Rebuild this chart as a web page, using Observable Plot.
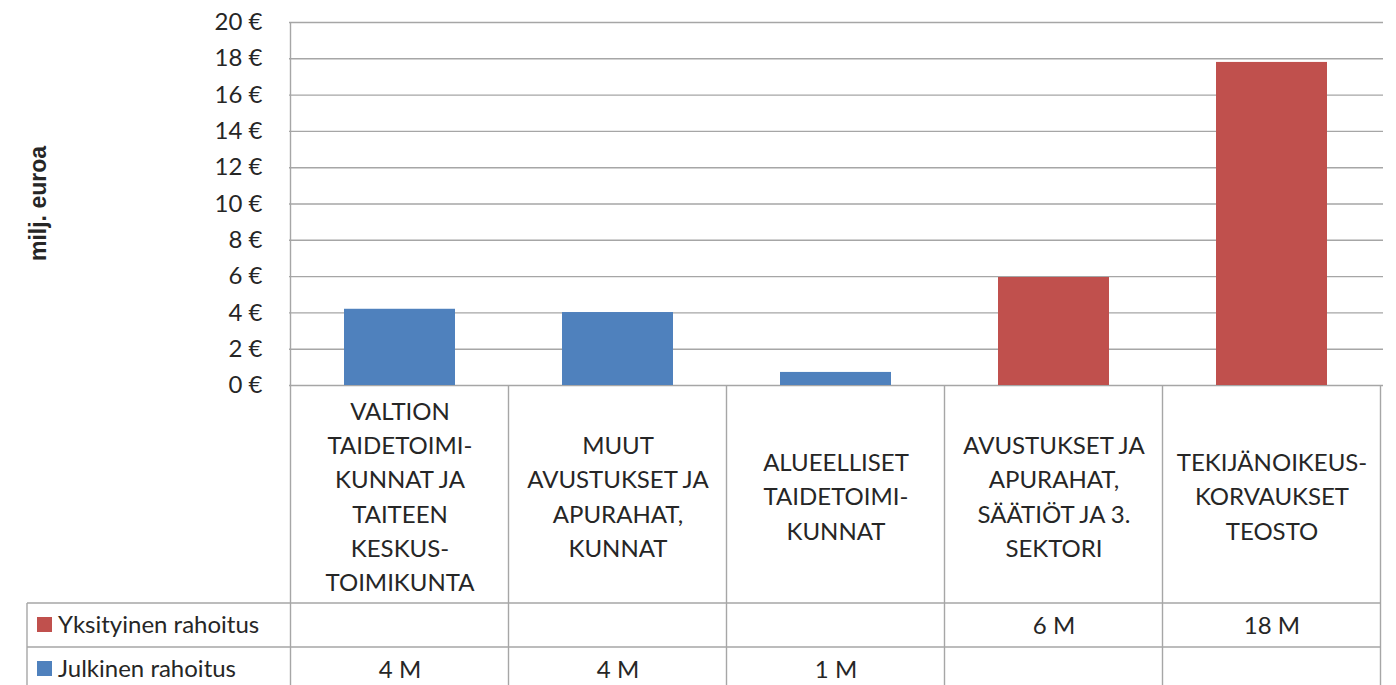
<!DOCTYPE html>
<html><head><meta charset="utf-8">
<script src="https://cdn.jsdelivr.net/npm/d3@7"></script>
<script src="https://cdn.jsdelivr.net/npm/@observablehq/plot@0.6"></script>
<style>body{margin:0;background:#fff} svg{display:block}</style>
</head><body><div id="chart"></div>
<script>
const categories = [
  "VALTION TAIDETOIMIKUNNAT JA TAITEEN KESKUSTOIMIKUNTA",
  "MUUT AVUSTUKSET JA APURAHAT, KUNNAT",
  "ALUEELLISET TAIDETOIMIKUNNAT",
  "AVUSTUKSET JA APURAHAT, SÄÄTIÖT JA 3. SEKTORI",
  "TEKIJÄNOIKEUSKORVAUKSET TEOSTO"
];
const categoryLabels = [
  "VALTION\nTAIDETOIMI-\nKUNNAT JA\nTAITEEN\nKESKUS-\nTOIMIKUNTA",
  "MUUT\nAVUSTUKSET JA\nAPURAHAT,\nKUNNAT",
  "ALUEELLISET\nTAIDETOIMI-\nKUNNAT",
  "AVUSTUKSET JA\nAPURAHAT,\nSÄÄTIÖT JA 3.\nSEKTORI",
  "TEKIJÄNOIKEUS-\nKORVAUKSET\nTEOSTO"
];
const seriesNames = ["Yksityinen rahoitus", "Julkinen rahoitus"];
const seriesColors = ["#C0504D", "#4F81BD"];
const yksityinen = [null, null, null, 5.95, 17.8];
const julkinen = [4.2, 4.02, 0.72, null, null];
const yTicks = [0, 2, 4, 6, 8, 10, 12, 14, 16, 18, 20];
const yTitle = "milj. euroa";

const seriesValues = [yksityinen, julkinen];
const rows = [];
categories.forEach((c, i) => {
  seriesNames.forEach((s, k) => {
    const v = seriesValues[k][i];
    if (v != null) rows.push({cat: c, series: s, value: v});
  });
});

const textColor = "#262626";
const lineColor = "#A6A6A6";

const plot = Plot.plot({
  width: 1396, height: 685,
  marginLeft: 289, marginRight: 13, marginTop: 22, marginBottom: 300,
  style: {fontFamily: "Lato, 'Open Sans', sans-serif", fontSize: "24px", color: textColor, background: "#fff", overflow: "visible"},
  x: {domain: categories, paddingInner: 0.49, paddingOuter: 0.245, axis: null},
  y: {domain: [0, 20], axis: null},
  color: {domain: seriesNames, range: seriesColors},
  marks: [
    Plot.gridY(yTicks, {stroke: lineColor, strokeOpacity: 1, strokeWidth: 1.4}),
    Plot.barY(rows, {x: "cat", y: "value", fill: "series"}),
    Plot.axisY(yTicks, {tickSize: 0, tickPadding: 27, tickFormat: d => `${d} €`, label: null, fill: textColor}),
    Plot.text(categories, {x: d => d, text: (d, i) => categoryLabels[i], frameAnchor: "bottom", dy: 109, lineAnchor: "middle", lineHeight: 1.43, fill: textColor}),
    Plot.text(rows.filter(d => d.series === seriesNames[0]), {x: "cat", text: d => Math.round(d.value) + " M", frameAnchor: "bottom", dy: 241, lineAnchor: "middle", fill: textColor}),
    Plot.text(rows.filter(d => d.series === seriesNames[1]), {x: "cat", text: d => Math.round(d.value) + " M", frameAnchor: "bottom", dy: 285, lineAnchor: "middle", fill: textColor})
  ]
});

// Data-table grid drawn from the plot's own scales
const svg = d3.select(plot);
const xs = plot.scale("x");
const ys = plot.scale("y");
const gap = (xs.step - xs.bandwidth) / 2;
const colEdges = categories.map(c => xs.apply(c) - gap);
colEdges.push(xs.apply(categories[categories.length - 1]) + xs.bandwidth + gap);
const y0 = ys.apply(0), yTop = ys.apply(20);
const rowTop = y0 + 218, rowH = 44, legendLeft = 27, bottom = 700;
const g = svg.append("g").attr("stroke", lineColor).attr("stroke-width", 1.4).attr("fill", "none");
g.append("line").attr("x1", colEdges[0]).attr("x2", colEdges[0]).attr("y1", yTop).attr("y2", bottom);
colEdges.slice(1).forEach(x => g.append("line").attr("x1", x).attr("x2", x).attr("y1", y0).attr("y2", bottom));
g.append("line").attr("x1", legendLeft).attr("x2", legendLeft).attr("y1", rowTop).attr("y2", bottom);
[rowTop, rowTop + rowH, rowTop + 2 * rowH].forEach(y =>
  g.append("line").attr("x1", legendLeft).attr("x2", colEdges[colEdges.length - 1]).attr("y1", y).attr("y2", y));
// legend cells
seriesNames.forEach((s, k) => {
  const cy = rowTop + rowH * k + rowH / 2;
  svg.append("rect").attr("x", legendLeft + 10).attr("y", cy - 8).attr("width", 15).attr("height", 15).attr("fill", seriesColors[k]);
  svg.append("text").attr("x", legendLeft + 31).attr("y", cy).attr("dy", "0.35em")
    .attr("text-anchor", "start")
    .attr("fill", textColor).attr("font-size", 24).text(s);
});
// y title
svg.append("text")
  .attr("transform", `translate(46,${(y0 + yTop) / 2}) rotate(-90)`)
  .attr("text-anchor", "middle")
  .attr("font-family", "'Liberation Sans', Arial, sans-serif")
  .attr("font-weight", "bold").attr("font-size", 23)
  .attr("fill", textColor).text(yTitle);

document.getElementById("chart").appendChild(plot);
</script>
</body></html>
